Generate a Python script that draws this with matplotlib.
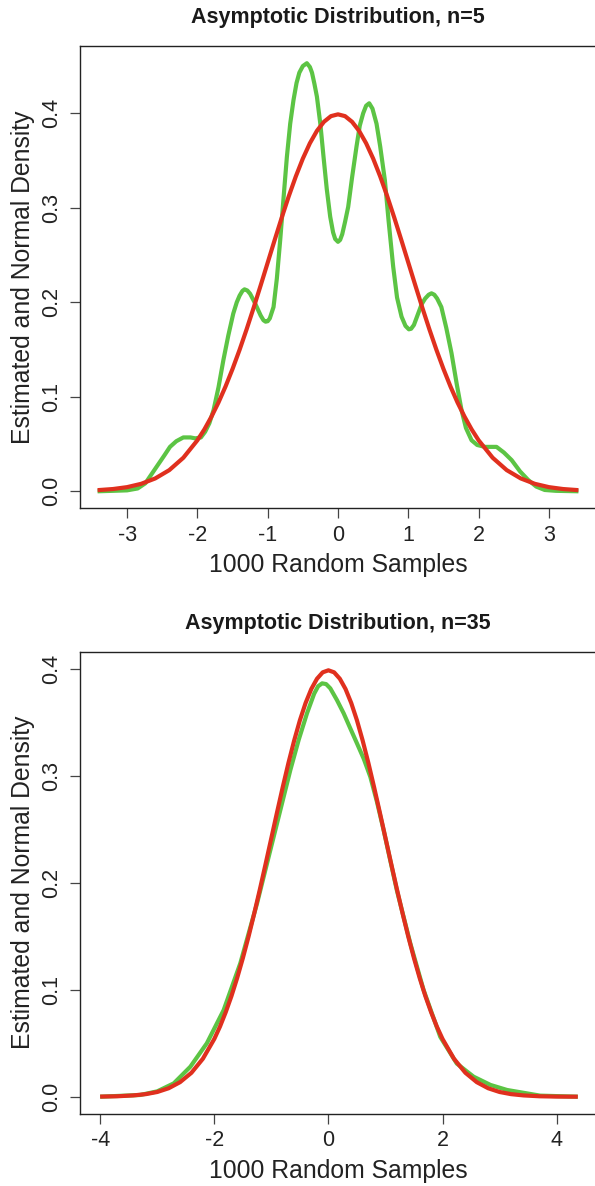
import numpy as np
import matplotlib
matplotlib.use("Agg")
import matplotlib.pyplot as plt

plt.rcParams['font.family'] = ['Liberation Sans', 'DejaVu Sans']
plt.rcParams['axes.unicode_minus'] = False

GREEN = '#5CC444'
RED = '#E0301E'

# normal density curve
normal_x = [-4.0, -3.7, -3.42, -3.2, -3.0, -2.8, -2.6, -2.4, -2.2, -2.0,
            -1.9, -1.8, -1.7, -1.6, -1.5, -1.4, -1.3, -1.2, -1.1, -1.0,
            -0.9, -0.8, -0.7, -0.6, -0.5, -0.4, -0.3, -0.2, -0.1, 0.0,
            0.1, 0.2, 0.3, 0.4, 0.5, 0.6, 0.7, 0.8, 0.9, 1.0,
            1.1, 1.2, 1.3, 1.4, 1.5, 1.6, 1.7, 1.8, 1.9, 2.0,
            2.2, 2.4, 2.6, 2.8, 3.0, 3.2, 3.42, 3.7, 4.0, 4.37]
normal_y = [0.0001, 0.0004, 0.0012, 0.0024, 0.0044, 0.0079, 0.0136, 0.0224, 0.0355, 0.0540,
            0.0656, 0.0790, 0.0940, 0.1109, 0.1295, 0.1497, 0.1714, 0.1942, 0.2179, 0.2420,
            0.2661, 0.2897, 0.3123, 0.3332, 0.3521, 0.3683, 0.3814, 0.3910, 0.3970, 0.3989,
            0.3970, 0.3910, 0.3814, 0.3683, 0.3521, 0.3332, 0.3123, 0.2897, 0.2661, 0.2420,
            0.2179, 0.1942, 0.1714, 0.1497, 0.1295, 0.1109, 0.0940, 0.0790, 0.0656, 0.0540,
            0.0355, 0.0224, 0.0136, 0.0079, 0.0044, 0.0024, 0.0012, 0.0004, 0.0001, 0.0000]

# estimated density, n=5
est5_x = [-3.42, -3.2, -3.0, -2.85, -2.74, -2.58, -2.47, -2.39, -2.3, -2.2,
          -2.1, -2.03, -1.95, -1.89, -1.83, -1.77, -1.7, -1.63, -1.56, -1.49,
          -1.44, -1.4, -1.36, -1.33, -1.29, -1.25, -1.18, -1.1, -1.06, -1.03,
          -1.0, -0.97, -0.917, -0.87, -0.822, -0.775, -0.727, -0.68, -0.633, -0.59,
          -0.55, -0.5, -0.443, -0.4, -0.37, -0.335, -0.3, -0.25, -0.206, -0.16,
          -0.111, -0.07, -0.04, 0.0, 0.03, 0.06, 0.1, 0.145, 0.2, 0.263,
          0.31, 0.358, 0.4, 0.444, 0.49, 0.548, 0.6, 0.667, 0.72, 0.785,
          0.84, 0.904, 0.96, 1.008, 1.04, 1.08, 1.14, 1.19, 1.24, 1.29,
          1.33, 1.37, 1.41, 1.47, 1.54, 1.615, 1.69, 1.757, 1.82, 1.9,
          1.98, 2.09, 2.18, 2.255, 2.36, 2.47, 2.59, 2.705, 2.82, 2.94,
          3.1, 3.42]
est5_y = [0.0, 0.0005, 0.001, 0.003, 0.0085, 0.026, 0.038, 0.047, 0.053, 0.057,
          0.057, 0.056, 0.057, 0.063, 0.072, 0.086, 0.11, 0.139, 0.165, 0.188,
          0.2, 0.207, 0.212, 0.2137, 0.2125, 0.209, 0.199, 0.186, 0.181, 0.1795,
          0.18, 0.183, 0.195, 0.225, 0.266, 0.31, 0.354, 0.389, 0.414, 0.432,
          0.443, 0.45, 0.453, 0.449, 0.443, 0.431, 0.4176, 0.388, 0.354, 0.32,
          0.2906, 0.274, 0.267, 0.264, 0.266, 0.272, 0.285, 0.301, 0.332, 0.3647,
          0.387, 0.4, 0.408, 0.4106, 0.405, 0.389, 0.365, 0.329, 0.286, 0.2377,
          0.205, 0.1848, 0.175, 0.1714, 0.172, 0.176, 0.188, 0.198, 0.204, 0.208,
          0.2095, 0.208, 0.204, 0.195, 0.173, 0.146, 0.113, 0.086, 0.067, 0.054,
          0.049, 0.047, 0.047, 0.047, 0.041, 0.033, 0.021, 0.012, 0.005, 0.0014,
          0.0005, 0.0]

# estimated density, n=35
est35_x = [-4.0, -3.3, -3.0, -2.71, -2.42, -2.13, -1.836, -1.544, -1.25, -0.96,
           -0.667, -0.52, -0.375, -0.25, -0.18, -0.11, -0.04, 0.033, 0.15, 0.267,
           0.38, 0.5, 0.62, 0.734, 0.85, 0.967, 1.08, 1.2, 1.435, 1.668,
           1.96, 2.25, 2.545, 2.84, 3.13, 3.71, 4.37]
est35_y = [0.0, 0.0016, 0.005, 0.0125, 0.028, 0.05, 0.081, 0.1248, 0.181, 0.243,
           0.3056, 0.334, 0.3587, 0.377, 0.384, 0.3867, 0.386, 0.382, 0.371, 0.3587,
           0.345, 0.3306, 0.316, 0.2993, 0.276, 0.2495, 0.222, 0.193, 0.1435, 0.0998,
           0.056, 0.031, 0.0187, 0.011, 0.0063, 0.001, 0.0]

y_ticks = [0.0, 0.1, 0.2, 0.3, 0.4]
y_ticklabels = ['0.0', '0.1', '0.2', '0.3', '0.4']

panels = [
    dict(title='Asymptotic Distribution, n=5', ex=est5_x, ey=est5_y, xr=3.42,
         xlim=(-3.67, 3.67), ylim=(-0.018, 0.4709), xticks=[-3, -2, -1, 0, 1, 2, 3],
         rect=[80 / 595, (1186 - 508.3) / 1186, 516 / 595, 462 / 1186], ty=17),
    dict(title='Asymptotic Distribution, n=35', ex=est35_x, ey=est35_y, xr=4.37,
         xlim=(-4.353, 4.689), ylim=(-0.0159, 0.4163), xticks=[-4, -2, 0, 2, 4],
         rect=[80 / 595, (1186 - 1113.7) / 1186, 516 / 595, 462 / 1186], ty=623),
]

fig = plt.figure(figsize=(5.95, 11.86), dpi=100)

for p in panels:
    ax = fig.add_axes(p['rect'])
    nx = np.array(normal_x)
    ny = np.array(normal_y)
    keep = (nx >= -4.0) & (nx <= p['xr'])
    if p['xr'] < 4:
        keep = np.abs(nx) <= p['xr']
    ax.plot(p['ex'], p['ey'], color=GREEN, lw=3, solid_capstyle='butt', solid_joinstyle='round')
    ax.plot(nx[keep], ny[keep], color=RED, lw=3, solid_capstyle='butt', solid_joinstyle='round')
    ax.set_xlim(*p['xlim'])
    ax.set_ylim(*p['ylim'])
    ax.set_xticks(p['xticks'])
    ax.set_xticklabels([str(t) for t in p['xticks']])
    ax.set_yticks(y_ticks)
    ax.set_yticklabels(y_ticklabels, rotation=90, va='center')
    ax.tick_params(axis='both', length=7, width=0.9, color='#444444',
                   labelsize=15.5, labelcolor='#222222')
    ax.tick_params(axis='x', pad=5)
    ax.tick_params(axis='y', pad=6)
    for side in ['top', 'bottom', 'left']:
        ax.spines[side].set_color('#222222')
        ax.spines[side].set_linewidth(1.0)
    ax.spines['right'].set_visible(False)
    ax.set_xlabel('1000 Random Samples', fontsize=17.8, color='#222222')
    ax.set_ylabel('Estimated and Normal Density', fontsize=17.8, color='#222222')
    ax.xaxis.set_label_coords(0.5, -0.0975)
    ax.yaxis.set_label_coords(-0.087, 0.5)
    fig.text(338 / 595, 1 - p['ty'] / 1186, p['title'], ha='center', va='center',
             fontsize=15.5, fontweight='bold', color='#1a1a1a')

fig.savefig('out.png', dpi=100)
